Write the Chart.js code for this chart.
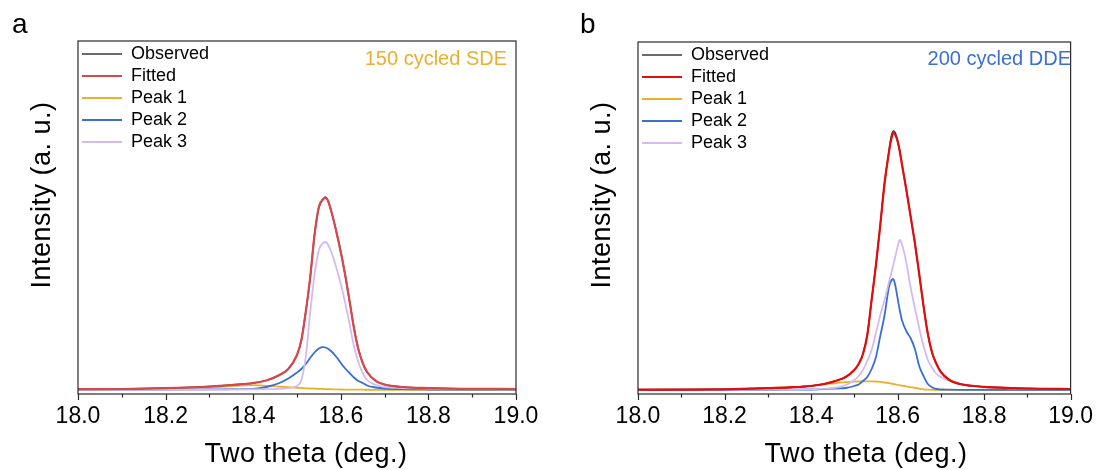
<!DOCTYPE html>
<html>
<head>
<meta charset="utf-8">
<script src="https://cdn.jsdelivr.net/npm/chart.js@4"></script>
<style>
  body { margin: 0; background: #fff; font-family: "Liberation Sans", Arial, sans-serif; }
  #wrap { position: relative; width: 1102px; height: 470px; }
  canvas { position: absolute; top: 0; }
  .txt { position: absolute; white-space: nowrap; color: #000; }
  .panel { font-size: 28px; line-height: 28px; top: 10px; }
  .xtitle { font-size: 27px; line-height: 27px; letter-spacing: 0.5px; top: 440px; transform: translateX(-50%); }
  .ytitle { font-size: 27px; line-height: 27px; letter-spacing: 0.5px; top: 195px; transform: translate(-50%, -50%) rotate(-90deg); }
  .note { font-size: 20px; line-height: 20px; top: 48px; }
</style>
</head>
<body>
<div id="wrap">
  <canvas id="chartA" width="551" height="470" style="left:0"></canvas>
  <canvas id="chartB" width="551" height="470" style="left:551px"></canvas>
  <div class="txt panel" style="left:12px">a</div>
  <div class="txt panel" style="left:580px">b</div>
  <div class="txt ytitle" style="left:41px">Intensity (a. u.)</div>
  <div class="txt ytitle" style="left:601px">Intensity (a. u.)</div>
  <div class="txt xtitle" style="left:306px">Two theta (deg.)</div>
  <div class="txt xtitle" style="left:866px">Two theta (deg.)</div>
  <div class="txt note" style="right:595px;color:#e8b030">150 cycled SDE</div>
  <div class="txt note" style="right:31px;color:#3b6fd3">200 cycled DDE</div>
</div>
<script>
// panel a: 150 cycled SDE
const thetaA = [18.00, 18.10, 18.20, 18.30, 18.35, 18.40, 18.43, 18.46, 18.48, 18.50, 18.51, 18.52, 18.53, 18.54, 18.55, 18.56, 18.565, 18.57, 18.58, 18.59, 18.60, 18.61, 18.62, 18.63, 18.64, 18.65, 18.66, 18.68, 18.70, 18.74, 18.80, 18.90, 19.00];
const obsA  = [0.8, 1.0, 1.9, 3.6, 5.1, 7.0, 9.6, 15, 21, 35, 50, 78, 112, 155, 183, 191, 193, 190, 176, 158, 138, 115, 89, 62, 41, 27, 18, 9, 5.5, 3, 2, 1.2, 1.0];
const fitA  = [0.8, 1.0, 1.8, 3.5, 5.0, 7.0, 9.5, 15, 21, 35, 50, 78, 112, 155, 183, 191, 192, 190, 176, 158, 138, 115, 89, 62, 41, 27, 18, 9, 5.5, 3, 2, 1.2, 1.0];
const p1A   = [0.3, 0.6, 1.2, 2.5, 4.0, 4.8, 4.2, 3.4, 2.8, 2.2, 2.0, 1.7, 1.5, 1.3, 1.1, 1.0, 0.9, 0.8, 0.7, 0.6, 0.5, 0.45, 0.4, 0.35, 0.3, 0.3, 0.25, 0.2, 0.2, 0.15, 0.1, 0.1, 0.1];
const p2A   = [0.3, 0.3, 0.4, 0.6, 0.8, 1.2, 3, 7, 11.5, 17.5, 21, 26, 32, 37.5, 41.5, 42.8, 42.5, 41.5, 38, 33, 27, 21.5, 17, 12.5, 9, 7, 4.5, 2.5, 1.5, 0.8, 0.5, 0.3, 0.3];
const p3A   = [0.5, 0.5, 0.5, 0.5, 0.5, 0.6, 0.8, 1.2, 2, 4, 10, 33, 77, 115, 140, 147, 148, 146, 136, 122, 106, 87, 66, 44, 28, 17, 10, 5, 3, 2, 1.5, 1.0, 1.0];

// panel b: 200 cycled DDE
const thetaB = [18.00, 18.10, 18.20, 18.30, 18.35, 18.40, 18.43, 18.46, 18.48, 18.50, 18.51, 18.52, 18.53, 18.54, 18.55, 18.56, 18.57, 18.58, 18.585, 18.59, 18.595, 18.60, 18.605, 18.61, 18.62, 18.63, 18.64, 18.65, 18.66, 18.67, 18.68, 18.69, 18.70, 18.72, 18.75, 18.80, 18.85, 18.90, 19.00];
const obsB  = [0.3, 0.4, 0.7, 1.8, 2.6, 4, 6, 9.5, 13, 20, 26, 36, 55, 90, 125, 165, 207, 238, 253, 259, 257, 249, 239, 226, 201, 174, 147, 116, 84, 56, 37, 26, 18, 10, 5.5, 3.2, 2.2, 1.5, 1];
const fitB  = [0.3, 0.4, 0.7, 1.8, 2.6, 4, 6, 9.5, 13, 20, 26, 36, 55, 90, 125, 165, 207, 238, 250, 257, 255, 249, 239, 226, 201, 174, 147, 116, 84, 56, 37, 26, 18, 10, 5.5, 3.2, 2.2, 1.5, 1];
const p1B   = [0.2, 0.4, 0.7, 1.8, 2.8, 4.2, 5.6, 7, 7.8, 8.3, 8.5, 8.6, 8.7, 8.7, 8.5, 8.1, 7.5, 6.8, 6.4, 6, 5.6, 5.2, 4.8, 4.4, 3.6, 2.8, 2, 1.3, 0.7, 0.4, 0.2, 0.1, 0.1, 0.1, 0.1, 0.1, 0.1, 0.1, 0.1];
const p2B   = [0, 0, 0.1, 0.2, 0.3, 0.5, 0.8, 1.5, 2, 4, 5.5, 9, 13, 21, 33, 54, 75, 103, 109, 111, 104, 92, 80, 70, 59, 52, 41, 24, 14, 6, 2.5, 1, 0.5, 0.3, 0.2, 0.1, 0.1, 0.1, 0.1];
const p3B   = [0.3, 0.3, 0.4, 0.5, 0.6, 0.8, 1.3, 2.5, 5, 10, 14, 20, 29, 40, 57, 75, 90, 108, 116, 125, 134, 143, 150, 146, 128, 103, 82, 62, 44, 30, 22, 16, 13, 9, 5.5, 3, 2, 1.5, 1];

const xTicks = [18.0, 18.2, 18.4, 18.6, 18.8, 19.0];
const seriesNames = ['Observed', 'Fitted', 'Peak 1', 'Peak 2', 'Peak 3'];

Chart.defaults.font.family = '"Liberation Sans", Arial, sans-serif';
Chart.defaults.color = '#000';

function pts(theta, vals) {
    return theta.map((t, i) => ({ x: t, y: vals[i] }));
}

// box around the plot + outward tick marks (major and minor)
const frameAndTicks = {
    id: 'frameAndTicks',
    beforeDraw(chart) {
        // keep the legend inside the top-left corner of the plot box
        const lg = chart.legend;
        if (lg) {
            const h = lg.bottom - lg.top;
            lg.top = chart.chartArea.top;
            lg.bottom = lg.top + h;
        }
    },
    afterDraw(chart) {
        const { ctx, chartArea: a, scales: { x } } = chart;
        ctx.save();
        ctx.strokeStyle = '#2a2a2a';
        ctx.lineWidth = 1.2;
        ctx.strokeRect(a.left, a.top, a.right - a.left, a.bottom - a.top);
        ctx.beginPath();
        x.ticks.forEach((t, i) => {
            const px = Math.round(x.getPixelForValue(t.value)) + 0.5;
            const len = i % 2 === 0 ? 6 : 3.5;
            ctx.moveTo(px, a.bottom);
            ctx.lineTo(px, a.bottom + len);
        });
        ctx.stroke();
        ctx.restore();
    }
};

function makeChart(id, theta, lists, fitColor, pad, yMax) {
    const colors = ['#3a3a3a', fitColor, '#e9b12c', '#3a6fd1', '#d4baf2'];
    const widths = [1.5, 2.2, 1.8, 1.8, 1.8];
    const orders = [1, 0, 4, 3, 2];
    const datasets = lists.map((vals, i) => ({
        label: seriesNames[i],
        data: pts(theta, vals),
        borderColor: colors[i],
        backgroundColor: colors[i],
        borderWidth: widths[i],
        pointRadius: 0,
        cubicInterpolationMode: 'monotone',
        order: orders[i]
    }));
    return new Chart(document.getElementById(id), {
        type: 'line',
        data: { datasets: datasets },
        plugins: [frameAndTicks],
        options: {
            responsive: false,
            devicePixelRatio: 1,
            animation: false,
            layout: { padding: pad },
            plugins: {
                tooltip: { enabled: false },
                legend: {
                    position: 'chartArea',
                    align: 'start',
                    labels: {
                        usePointStyle: true,
                        pointStyle: 'line',
                        pointStyleWidth: 40,
                        padding: 4,
                        color: '#000',
                        font: { size: 18 },
                        sort: (a, b) => a.datasetIndex - b.datasetIndex
                    }
                }
            },
            scales: {
                x: {
                    type: 'linear',
                    min: 18,
                    max: 19,
                    grid: { display: false, drawTicks: false },
                    border: { display: false },
                    afterFit: (s) => { s.height = 76; },
                    ticks: {
                        stepSize: 0.1,
                        autoSkip: false,
                        maxRotation: 0,
                        padding: 9,
                        color: '#000',
                        font: { size: 23 },
                        callback: (v) => {
                            const hit = xTicks.find(t => Math.abs(t - v) < 1e-6);
                            return hit !== undefined ? hit.toFixed(1) : '';
                        }
                    }
                },
                y: {
                    display: false,
                    min: -4,
                    max: yMax
                }
            }
        }
    });
}

makeChart('chartA', thetaA, [obsA, fitA, p1A, p2A, p3A], '#d5484b',
    { left: 78, right: 35, top: 41, bottom: 0 }, 349);
makeChart('chartB', thetaB, [obsB, fitB, p1B, p2B, p3B], '#e00e0e',
    { left: 87, right: 27, top: 42, bottom: 0 }, 348);
</script>
</body>
</html>
